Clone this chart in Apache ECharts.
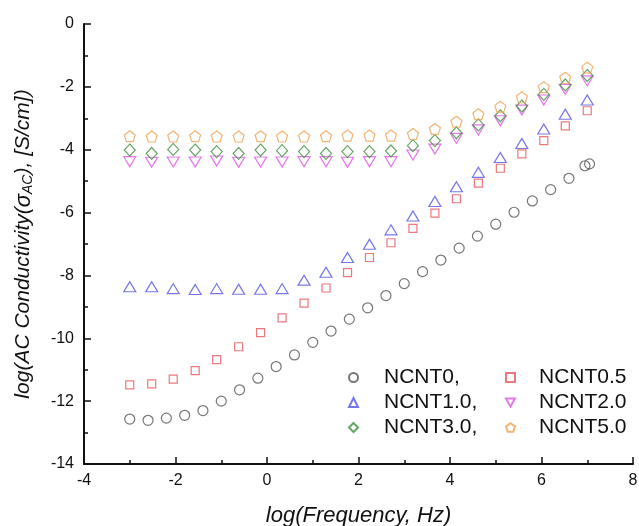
<!DOCTYPE html>
<html>
<head>
<meta charset="utf-8">
<script src="https://cdn.jsdelivr.net/npm/echarts@6/dist/echarts.min.js"></script>
<style>
    html, body {margin: 0; padding: 0; background: #fff;}
    #main {width: 639px; height: 526px;}
</style>
</head>
<body>
<div id="main"></div>
<script>
// x positions (log f)
var xNCNT0 = [-3.0, -2.6, -2.2, -1.8, -1.4, -1.0, -0.6, -0.2, 0.2, 0.6, 1.0, 1.4, 1.8, 2.2,
    2.6, 3.0, 3.4, 3.8, 4.2, 4.6, 5.0, 5.4, 5.8, 6.2, 6.6, 6.95, 7.05];
var xOthers = [-3.00, -2.52, -2.05, -1.57, -1.10, -0.62, -0.14, 0.33, 0.81, 1.29, 1.76,
    2.24, 2.71, 3.19, 3.67, 4.14, 4.62, 5.10, 5.57, 6.05, 6.52, 7.00];

// log(sigma_AC)
var yNCNT0 = [-12.57, -12.61, -12.54, -12.45, -12.30, -12.00, -11.64, -11.27, -10.90, -10.53,
    -10.13, -9.77, -9.39, -9.03, -8.64, -8.26, -7.88, -7.51, -7.13, -6.75, -6.37, -5.99,
    -5.63, -5.27, -4.91, -4.51, -4.45];
var yNCNT05 = [-11.48, -11.45, -11.30, -11.03, -10.68, -10.27, -9.82, -9.35, -8.88, -8.40,
    -7.91, -7.43, -6.96, -6.50, -6.02, -5.56, -5.06, -4.59, -4.13, -3.71, -3.24, -2.76];
var yNCNT10 = [-8.36, -8.36, -8.42, -8.45, -8.42, -8.44, -8.44, -8.42, -8.15, -7.90, -7.43,
    -7.01, -6.55, -6.11, -5.65, -5.18, -4.72, -4.25, -3.80, -3.34, -2.87, -2.42];
var yNCNT20 = [-4.38, -4.40, -4.39, -4.39, -4.36, -4.40, -4.39, -4.39, -4.38, -4.38, -4.40,
    -4.38, -4.38, -4.17, -3.98, -3.64, -3.37, -3.08, -2.74, -2.42, -2.08, -1.81];
var yNCNT30 = [-4.01, -4.12, -3.99, -4.01, -4.06, -4.12, -4.01, -4.03, -4.06, -4.12, -4.06,
    -4.06, -4.04, -3.87, -3.71, -3.46, -3.21, -2.92, -2.61, -2.24, -1.94, -1.64];
var yNCNT50 = [-3.57, -3.58, -3.58, -3.57, -3.58, -3.58, -3.57, -3.58, -3.58, -3.57, -3.55,
    -3.55, -3.55, -3.50, -3.34, -3.11, -2.87, -2.63, -2.33, -2.01, -1.71, -1.39];

var names = ['NCNT0', 'NCNT0.5', 'NCNT1.0', 'NCNT2.0', 'NCNT3.0', 'NCNT5.0'];

var downTri = 'path://M0,0 L2,0 L1,1.8 Z';
var pentagon = 'path://M0,-1 L0.951,-0.309 L0.588,0.809 L-0.588,0.809 L-0.951,-0.309 Z';

function pairs(xs, ys) {
    return ys.map(function (y, i) { return [xs[i], y]; });
}

function mk(name, xs, ys, symbol, size, color) {
    return {
        name: name,
        type: 'scatter',
        data: pairs(xs, ys),
        symbol: symbol,
        symbolSize: size,
        itemStyle: {color: 'transparent', borderColor: color, borderWidth: 1.2},
        emphasis: {disabled: true}
    };
}

var font = 'Liberation Sans, Arial, sans-serif';
var axisStyle = {
    axisLine: {onZero: false, lineStyle: {color: '#111', width: 2}},
    axisTick: {inside: true, length: 7, lineStyle: {color: '#111', width: 1.5}},
    minorTick: {show: true, splitNumber: 2, length: 4, lineStyle: {color: '#111', width: 1.5}},
    splitLine: {show: false}
};

var myChart = echarts.init(document.getElementById('main'));
var option = {
    animation: false,
    textStyle: {fontFamily: font},
    grid: {left: 84, right: 6, top: 24, bottom: 62, outerBoundsMode: 'none', containLabel: false},
    legend: [
        {
            data: [names[0], names[2], names[4]],
            orient: 'vertical', left: 348, top: 367, padding: 0,
            itemWidth: 9, itemHeight: 9, itemGap: 4,
            formatter: function (n) { return n + ','; },
            textStyle: {fontSize: 21, color: '#111', lineHeight: 21, padding: [0, 0, 0, 21]}
        },
        {
            data: [names[1], names[3], names[5]],
            orient: 'vertical', left: 505, top: 367, padding: 0,
            itemWidth: 9, itemHeight: 9, itemGap: 4,
            textStyle: {fontSize: 21, color: '#111', lineHeight: 21, padding: [0, 0, 0, 19]}
        }
    ],
    xAxis: Object.assign({
        type: 'value', min: -4, max: 8, interval: 2,
        name: 'log(Frequency, Hz)', nameLocation: 'middle', nameGap: 41,
        nameTextStyle: {fontSize: 22, fontStyle: 'italic', color: '#111'},
        axisLabel: {fontSize: 16, color: '#111', margin: 9}
    }, axisStyle),
    yAxis: Object.assign({
        type: 'value', min: -14, max: 0, interval: 2,
        name: '{a|log(AC Conductivity(}{s|σ}{sub|AC}{a|), [S/cm])}',
        nameLocation: 'middle', nameGap: 49, nameRotate: 90,
        nameTextStyle: {
            fontSize: 21, color: '#111',
            rich: {
                a: {fontSize: 21, fontStyle: 'italic', color: '#111', fontFamily: font},
                s: {fontSize: 22, fontStyle: 'italic', color: '#111', fontFamily: font},
                sub: {fontSize: 14, fontStyle: 'italic', color: '#111', fontFamily: font,
                    verticalAlign: 'bottom', padding: [9, 0, 0, 0]}
            }
        },
        axisLabel: {fontSize: 16, color: '#111', margin: 10}
    }, axisStyle),
    series: [
        mk(names[0], xNCNT0, yNCNT0, 'circle', 10, '#555555'),
        mk(names[1], xOthers, yNCNT05, 'rect', 8, '#e8555a'),
        mk(names[2], xOthers, yNCNT10, 'triangle', [12, 10], '#5555e6'),
        mk(names[3], xOthers, yNCNT20, downTri, [12, 10], '#e055e6'),
        mk(names[4], xOthers, yNCNT30, 'diamond', [11, 12], '#3f8f3f'),
        mk(names[5], xOthers, yNCNT50, pentagon, 11, '#f0a050')
    ]
};
myChart.setOption(option);
</script>
</body>
</html>
